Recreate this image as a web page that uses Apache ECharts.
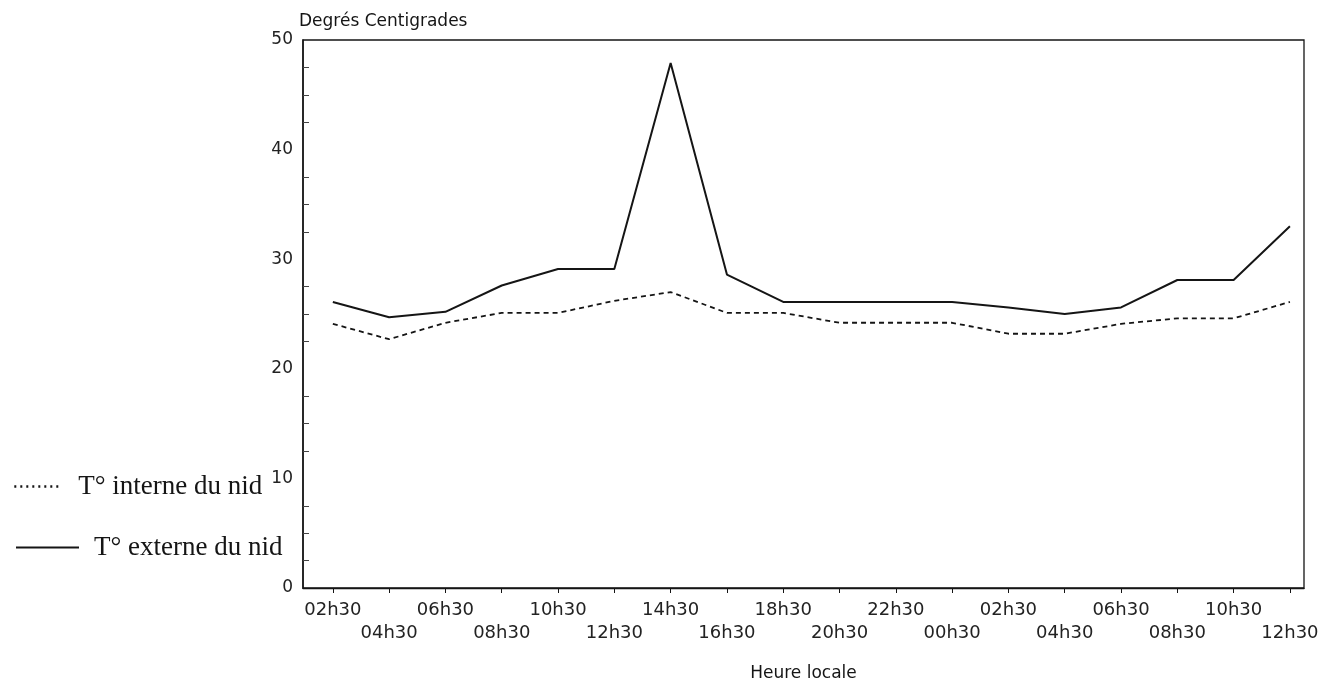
<!DOCTYPE html>
<html>
<head>
<meta charset="utf-8">
<script src="https://cdn.jsdelivr.net/npm/echarts@6/dist/echarts.min.js"></script>
<style>
html,body{margin:0;padding:0;background:#fff;}
#chart{width:1339px;height:687px;}
</style>
</head>
<body>
<div id="chart"></div>
<script>
var hours = ['02h30','04h30','06h30','08h30','10h30','12h30','14h30','16h30','18h30','20h30','22h30','00h30','02h30','04h30','06h30','08h30','10h30','12h30'];
var tInterne = [24.1, 22.7, 24.2, 25.1, 25.1, 26.2, 27.0, 25.1, 25.1, 24.2, 24.2, 24.2, 23.2, 23.2, 24.1, 24.6, 24.6, 26.1];
var tExterne = [26.1, 24.7, 25.2, 27.6, 29.1, 29.1, 47.9, 28.6, 26.1, 26.1, 26.1, 26.1, 25.6, 25.0, 25.6, 28.1, 28.1, 33.0];
var yTicks = [0, 10, 20, 30, 40, 50];
var nameInterne = 'T° interne du nid';
var nameExterne = 'T° externe du nid';
var yName = 'Degrés Centigrades';
var xName = 'Heure locale';

var idx = hours.map(function (h, i) { return i; });
var evenIdx = idx.filter(function (i) { return i % 2 === 0; });
var oddIdx = idx.filter(function (i) { return i % 2 === 1; });
var chart = echarts.init(document.getElementById('chart'));
var ink = '#151515';
var labelFont = { fontFamily: 'DejaVu Sans', fontSize: 18, color: '#222' };
function hourLabel(v) { return hours[Math.round(v)]; }
chart.setOption({
  animation: false,
  backgroundColor: '#fff',
  grid: { left: 303, right: 35, top: 40, bottom: 95, show: true, borderColor: ink, borderWidth: 1.3, backgroundColor: 'transparent' },
  legend: [
    {
      data: [nameInterne], left: 8, top: 468, orient: 'vertical', selectedMode: false,
      itemWidth: 46, itemHeight: 14,
      itemStyle: { opacity: 0 },
      lineStyle: { type: [2, 4], width: 2.6, color: ink },
      textStyle: { fontFamily: 'Liberation Serif', fontSize: 27, color: ink, padding: [0, 0, 0, 13] }
    },
    {
      data: [nameExterne], left: 10, top: 529, orient: 'vertical', selectedMode: false,
      itemWidth: 63, itemHeight: 14,
      itemStyle: { opacity: 0 },
      lineStyle: { type: 'solid', width: 2, color: ink },
      textStyle: { fontFamily: 'Liberation Serif', fontSize: 27, color: ink, padding: [0, 0, 0, 10] }
    }
  ],
  xAxis: [
    {
      type: 'value', min: -0.53, max: 17.25, position: 'bottom',
      name: xName, nameLocation: 'middle', nameGap: 77,
      nameTextStyle: { fontFamily: 'DejaVu Sans', fontSize: 17, color: ink },
      axisLine: { show: true, onZero: false, lineStyle: { color: ink, width: 1.3 } },
      axisTick: { show: true, customValues: idx, length: 5, lineStyle: { color: ink, width: 1 } },
      axisLabel: Object.assign({
        customValues: evenIdx, margin: 13, showMinLabel: true, showMaxLabel: true,
        formatter: hourLabel
      }, labelFont),
      splitLine: { show: false }
    },
    {
      type: 'value', min: -0.53, max: 17.25, position: 'bottom', offset: 0,
      axisLine: { show: false, onZero: false },
      axisTick: { show: false },
      axisLabel: Object.assign({
        customValues: oddIdx, margin: 36, showMinLabel: true, showMaxLabel: true,
        formatter: hourLabel
      }, labelFont),
      splitLine: { show: false }
    }
  ],
  yAxis: {
    type: 'value', min: yTicks[0], max: yTicks[yTicks.length - 1], interval: 10,
    name: yName, nameLocation: 'end', nameGap: 10,
    nameTextStyle: { fontFamily: 'DejaVu Sans', fontSize: 17, color: ink, align: 'left', padding: [0, 0, 0, -4] },
    axisLine: { show: true, onZero: false, lineStyle: { color: ink, width: 1.5 } },
    axisTick: { show: false, inside: true },
    minorTick: { show: true, splitNumber: 4, length: 6, lineStyle: { color: '#444', width: 1 } },
    axisLabel: { fontFamily: 'DejaVu Sans', fontSize: 17, color: '#222', margin: 10 },
    splitLine: { show: false },
    minorSplitLine: { show: false }
  },
  series: [
    {
      name: nameInterne, type: 'line', symbol: 'none', color: ink, xAxisIndex: 0,
      data: tInterne.map(function (v, i) { return [i, v]; }),
      lineStyle: { type: [5, 4], width: 1.8, color: ink }
    },
    {
      name: nameExterne, type: 'line', symbol: 'none', color: ink, xAxisIndex: 0,
      data: tExterne.map(function (v, i) { return [i, v]; }),
      lineStyle: { type: 'solid', width: 2, color: ink }
    }
  ]
});
</script>
</body>
</html>
